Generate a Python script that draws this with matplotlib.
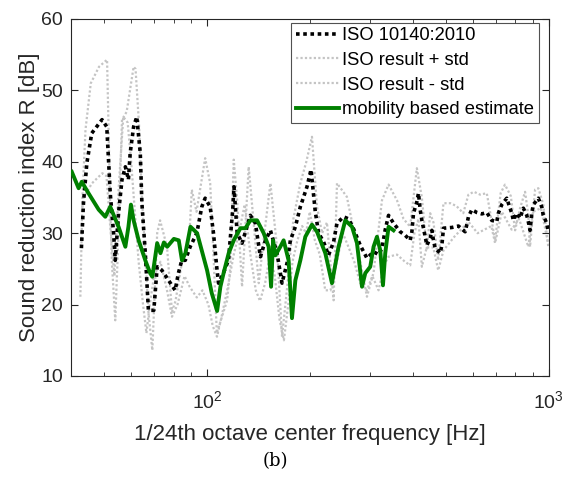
import matplotlib

matplotlib.use("Agg")
import matplotlib.pyplot as plt
from matplotlib.ticker import LogLocator, NullFormatter, FixedLocator

plt.rcParams["font.family"] = ["Liberation Sans", "DejaVu Sans"]

# ISO 10140:2010 result (Hz, dB)
iso_f = [42.9, 43.5, 44.5, 46.0, 49.3, 50.9, 51.5, 52.1, 53.3, 53.9,
         55.1, 56.4, 57.7, 58.9, 59.6, 61.0, 62.3, 63.8, 64.5, 66.0,
         67.4, 69.9, 71.5, 73.8, 77.2, 80.7, 82.5, 84.4, 86.4, 89.3,
         93.4, 96.6, 98.8, 102.2, 104.5, 106.8, 108.1, 111.7, 115.6, 119.0,
         120.0, 122.6, 126.7, 134.0, 138.6, 143.4, 148.3, 153.4, 160.4, 165.9,
         171.6, 175.5, 181.5, 187.7, 196.3, 201.7, 207.6, 212.3, 219.5, 227.0,
         234.9, 240.3, 251.2, 259.8, 268.7, 281.1, 294.1, 307.5, 318.1, 325.4,
         332.7, 340.2, 351.8, 368.1, 380.6, 393.6, 398.1, 402.5, 411.7, 416.2,
         421.0, 425.8, 430.5, 435.5, 440.5, 450.4, 455.6, 460.5, 465.8, 481.7,
         487.3, 492.6, 521.2, 544.9, 570.0, 576.6, 582.9, 596.4, 616.6, 637.8,
         659.6, 682.2, 705.5, 713.2, 729.8, 754.8, 763.0, 780.6, 789.1, 807.3,
         825.5, 844.0, 863.6, 872.9, 883.0, 893.2, 902.9, 933.8, 955.3, 965.6,
         987.9, 998.6]
iso_r = [27.9, 34.2, 39.8, 44.0, 45.9, 44.9, 40.3, 35.6, 30.0, 26.2,
         32.8, 37.5, 39.3, 37.5, 41.2, 44.9, 46.3, 41.2, 34.2, 27.2,
         19.2, 19.2, 25.3, 24.8, 23.4, 22.0, 24.4, 26.2, 26.2, 28.1,
         30.0, 33.7, 34.9, 33.7, 30.0, 25.3, 23.0, 24.4, 26.2, 33.3,
         36.5, 30.0, 28.6, 32.5, 31.4, 26.7, 29.0, 30.4, 27.2, 23.0,
         25.8, 29.0, 30.9, 33.7, 36.5, 38.9, 33.0, 30.0, 28.8, 26.9,
         28.8, 31.4, 32.3, 32.0, 30.6, 28.3, 26.5, 27.4, 27.0, 27.9,
         30.5, 32.5, 31.4, 30.2, 29.7, 29.0, 30.2, 32.8, 34.4, 35.6,
         33.3, 31.8, 30.7, 29.5, 28.3, 29.3, 30.4, 29.0, 27.9, 27.2,
         28.3, 30.7, 30.8, 31.0, 30.2, 31.2, 32.3, 33.3, 32.9, 32.7,
         32.9, 31.8, 31.6, 32.8, 34.0, 34.9, 34.2, 32.8, 31.8, 32.8,
         32.1, 33.5, 32.5, 31.6, 30.4, 32.8, 34.0, 34.9, 33.7, 32.5,
         31.4, 30.2]

# ISO result + std
plus_f = [42.6, 43.2, 44.1, 45.7, 48.3, 51.0, 51.5, 52.0, 52.7, 53.9,
          55.1, 56.4, 58.2, 61.0, 61.8, 63.3, 64.5, 66.0, 67.4, 69.2,
          71.5, 72.9, 76.4, 79.0, 80.9, 84.4, 88.9, 90.3, 93.2, 98.8,
          102.2, 104.5, 106.9, 114.6, 117.1, 119.8, 122.6, 126.7, 132.5, 136.7,
          141.8, 147.3, 153.4, 160.4, 165.9, 173.1, 179.1, 187.7, 195.4, 203.0,
          210.0, 217.3, 224.6, 234.9, 240.3, 256.8, 268.7, 281.1, 294.1, 307.5,
          325.4, 340.2, 360.1, 376.3, 393.6, 411.7, 425.8, 440.5, 450.4, 460.5,
          475.5, 492.6, 516.0, 537.8, 563.0, 582.9, 604.5, 630.6, 659.6, 697.7,
          724.2, 745.5, 775.7, 798.3, 825.5, 853.9, 872.9, 883.0, 913.4, 933.8,
          965.6, 998.6]
plus_r = [21.1, 35.1, 44.5, 51.0, 53.3, 54.3, 45.0, 35.1, 25.8, 17.8,
          30.0, 45.9, 47.0, 53.3, 53.0, 45.0, 35.0, 27.0, 19.0, 13.6,
          30.0, 31.8, 28.1, 19.0, 20.5, 25.8, 30.0, 36.1, 33.0, 40.5,
          37.0, 27.0, 16.0, 20.6, 25.3, 40.3, 34.6, 22.5, 39.3, 32.0,
          23.0, 30.0, 37.0, 28.0, 15.5, 24.0, 32.0, 37.0, 40.0, 43.5,
          33.7, 30.0, 31.5, 20.6, 37.0, 35.1, 30.5, 26.0, 21.1, 24.5,
          34.6, 36.8, 34.6, 32.0, 30.9, 39.1, 35.0, 27.6, 32.8, 31.5,
          26.2, 34.2, 34.2, 33.8, 32.8, 35.4, 35.8, 35.4, 35.6, 29.0,
          35.6, 36.8, 35.2, 30.4, 33.5, 35.8, 32.5, 28.1, 36.1, 36.3,
          34.0, 28.1]

# ISO result - std
minus_f = [43.0, 43.6, 46.1, 49.4, 50.8, 52.2, 53.6, 55.1, 56.9, 58.6,
           60.0, 61.5, 63.1, 65.0, 66.5, 68.0, 70.0, 73.1, 76.4, 79.0,
           82.0, 86.0, 89.0, 93.4, 97.0, 101.0, 104.0, 107.0, 110.0, 114.6,
           119.8, 124.0, 129.0, 134.0, 139.0, 143.0, 148.0, 153.0, 158.0, 163.0,
           168.0, 173.0, 178.0, 184.0, 190.0, 195.0, 200.0, 207.0, 214.0, 222.0,
           230.0, 240.0, 250.0, 260.0, 270.0, 281.0, 294.0, 305.0, 318.0, 330.0,
           340.0, 360.0, 380.0, 393.6, 405.0, 416.0, 425.8, 440.0, 460.0, 475.5,
           492.6, 530.0, 582.9, 620.0, 680.0, 697.7, 730.0, 780.0, 820.0, 872.9,
           900.0, 950.0, 998.6]
minus_r = [33.0, 35.1, 37.0, 38.4, 38.0, 30.4, 24.0, 36.0, 46.3, 45.5,
           40.0, 33.0, 26.0, 20.0, 16.0, 20.0, 24.0, 26.0, 22.0, 18.3,
           20.0, 24.0, 22.5, 21.0, 22.0, 20.0, 17.0, 15.5, 18.0, 22.0,
           27.0, 30.0, 34.0, 27.0, 22.0, 20.5, 23.0, 27.0, 24.0, 18.0,
           15.0, 20.0, 26.0, 29.0, 31.0, 30.0, 33.0, 29.0, 27.0, 22.0,
           22.0, 26.0, 30.0, 28.0, 26.0, 23.0, 22.0, 24.0, 22.0, 25.5,
           26.7, 27.0, 26.0, 25.5, 30.0, 32.0, 25.3, 28.0, 28.0, 24.8,
           27.6, 29.5, 31.6, 30.0, 31.0, 28.6, 33.0, 30.5, 32.0, 28.1,
           33.0, 33.5, 28.5]

# mobility based estimate
mob_f = [40.2, 42.1, 43.0, 45.0, 48.2, 50.4, 52.1, 55.1, 57.7, 58.9,
         59.9, 61.0, 63.1, 66.0, 68.2, 69.2, 71.5, 73.1, 74.8, 76.5,
         80.0, 82.7, 84.5, 86.5, 89.5, 93.6, 100.1, 103.3, 107.1, 109.5,
         112.0, 115.8, 119.8, 125.3, 129.6, 134.0, 140.2, 146.6, 151.6, 154.1,
         156.2, 158.6, 164.0, 167.7, 173.4, 177.4, 181.5, 187.7, 194.1, 203.0,
         210.0, 222.1, 232.3, 242.8, 254.1, 265.9, 275.0, 284.4, 290.8, 300.7,
         307.5, 314.6, 321.7, 327.6, 332.7, 340.2, 351.8]
mob_r = [38.6, 36.3, 37.2, 35.6, 33.3, 32.3, 33.7, 30.9, 28.1, 30.9,
         34.0, 31.8, 29.0, 26.2, 24.4, 23.9, 28.6, 27.2, 28.7, 28.1,
         29.2, 29.0, 26.2, 27.2, 30.9, 30.0, 24.8, 21.6, 19.1, 22.5,
         24.5, 27.2, 29.0, 30.7, 30.7, 31.8, 31.8, 30.0, 28.1, 22.5,
         29.0, 26.9, 28.1, 29.0, 26.2, 18.1, 23.4, 26.2, 29.5, 31.2,
         30.2, 27.2, 23.0, 28.1, 31.8, 30.9, 28.6, 22.5, 24.4, 25.3,
         28.1, 29.5, 27.6, 22.7, 27.2, 30.9, 30.4]

fig = plt.figure(figsize=(5.65, 4.78), dpi=100)
ax = fig.add_axes([0.1257, 0.2134, 0.8451, 0.7469])

gray = "#c4c4c4"
ax.plot(plus_f, plus_r, color=gray, linestyle=(0, (1, 1)), linewidth=1.6,
        label="ISO result + std", zorder=2)
ax.plot(minus_f, minus_r, color=gray, linestyle=(0, (1, 1)), linewidth=1.6,
        label="ISO result - std", zorder=2)
ax.plot(iso_f, iso_r, color="black", linestyle=(0, (1, 1)), linewidth=2.6,
        label="ISO 10140:2010", zorder=3)
ax.plot(mob_f, mob_r, color="#008000", linewidth=2.8,
        label="mobility based estimate", zorder=4)

ax.set_xscale("log")
ax.set_xlim(40, 1000)
ax.set_ylim(10, 60)
ax.set_yticks([10, 20, 30, 40, 50, 60])
ax.xaxis.set_major_locator(FixedLocator([100, 1000]))
ax.xaxis.set_minor_locator(LogLocator(base=10, subs=range(2, 10)))
ax.xaxis.set_minor_formatter(NullFormatter())
ax.tick_params(which="both", direction="in", top=True, right=True,
               labelsize=14, colors="#262626")
ax.tick_params(which="major", length=5, width=0.8)
ax.tick_params(which="minor", length=3, width=0.6)
ax.tick_params(axis="x", which="major", pad=10)
ax.tick_params(axis="y", which="major", pad=5.7)
for s in ax.spines.values():
    s.set_color("#262626")
    s.set_linewidth(0.8)

ax.set_xlabel("1/24th octave center frequency [Hz]", fontsize=16,
              color="#262626", labelpad=9)
ax.set_ylabel("Sound reduction index R [dB]", fontsize=16,
              color="#262626", labelpad=1)

h, l = ax.get_legend_handles_labels()
order = [2, 0, 1, 3]
leg = ax.legend([h[i] for i in order], [l[i] for i in order],
                loc="upper right", bbox_to_anchor=(0.98, 0.99),
                borderaxespad=0, fontsize=13.2, frameon=True, fancybox=False,
                edgecolor="#262626", handlelength=2.35, handletextpad=0.2,
                labelspacing=0.42, borderpad=0.25)
leg.get_frame().set_linewidth(0.8)

fig.text(0.488, 0.036, "(b)", ha="center", va="center",
         family=["DejaVu Serif"], fontsize=13)

fig.savefig("out.png", dpi=100)
